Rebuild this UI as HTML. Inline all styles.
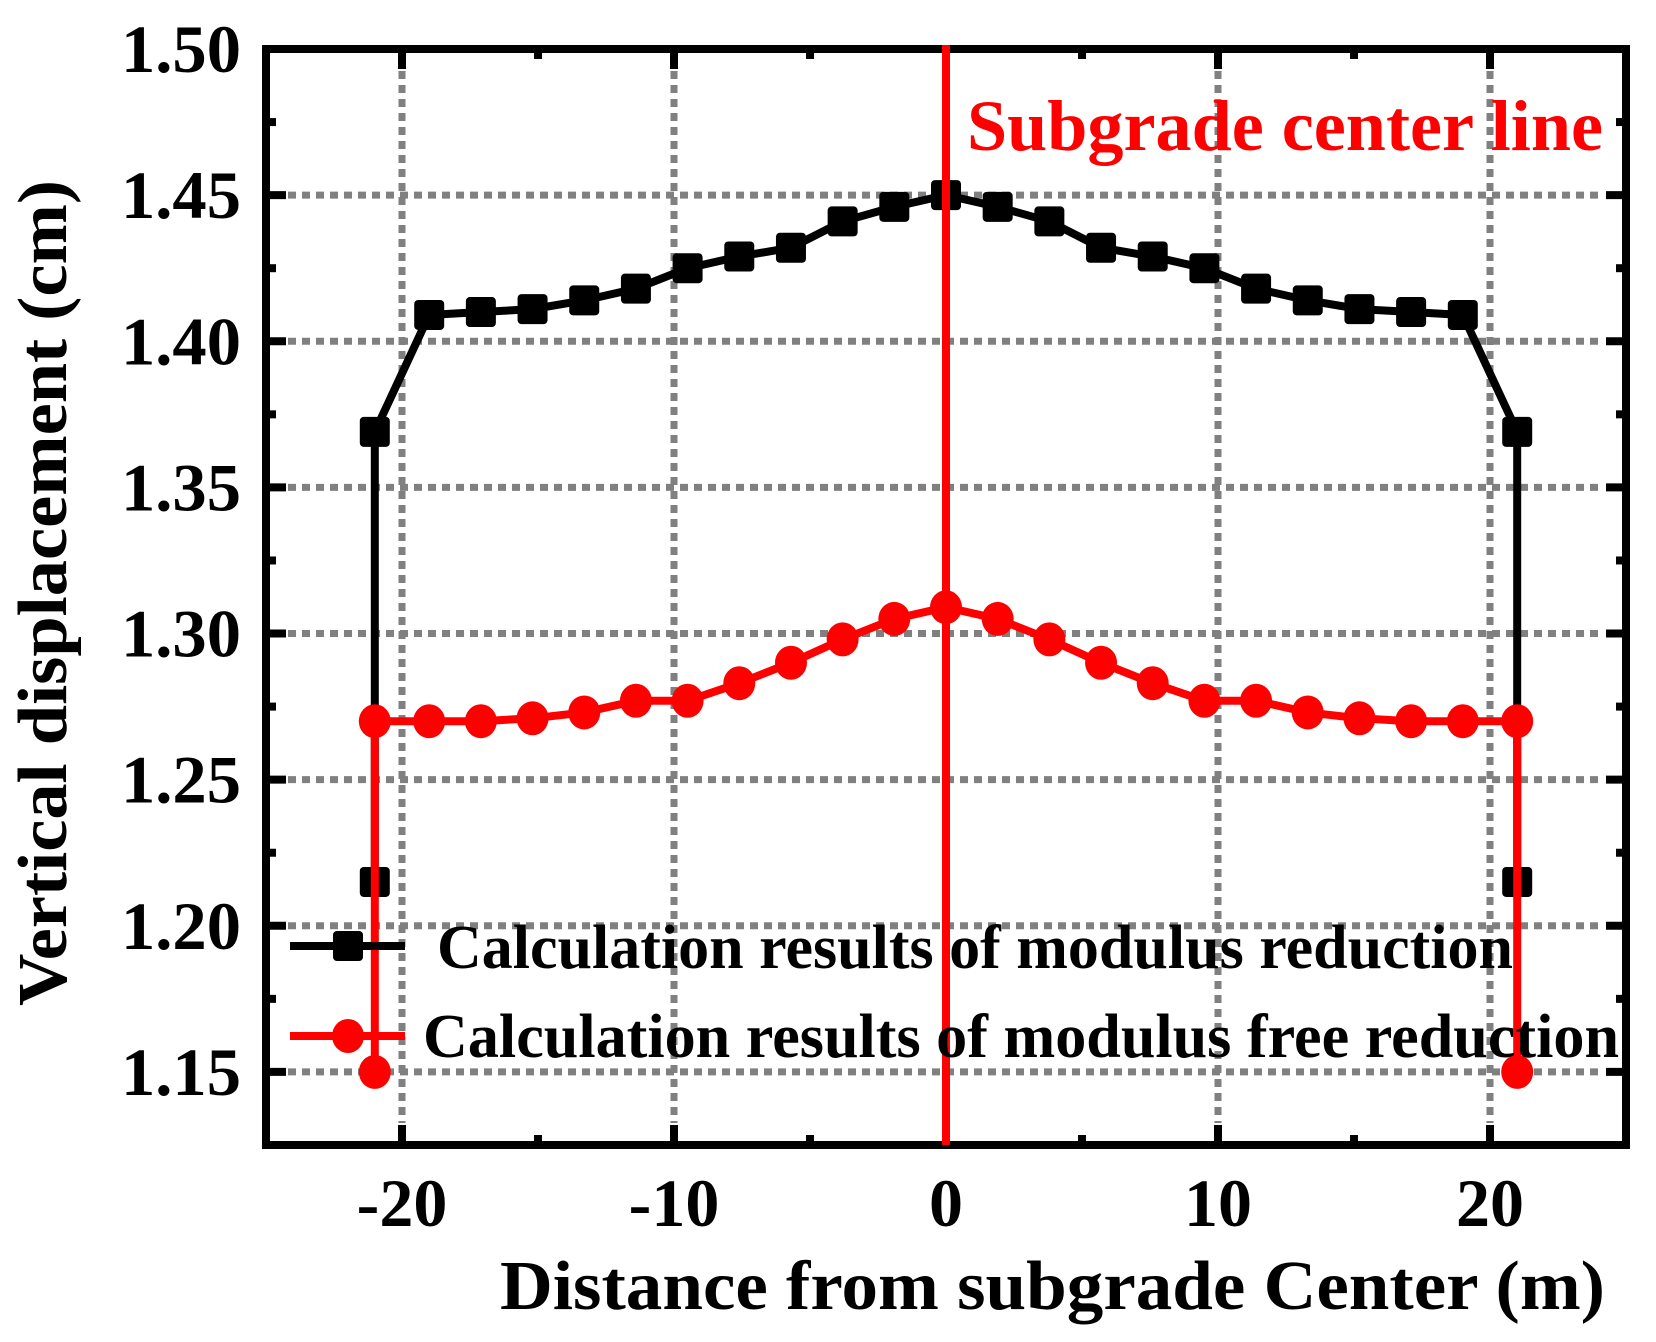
<!DOCTYPE html>
<html><head><meta charset="utf-8"><style>
html,body{margin:0;padding:0;background:#fff;}
svg{display:block;font-family:"Liberation Serif",serif;font-weight:bold;}
</style></head><body>
<svg id="chart" width="1656" height="1342" viewBox="0 0 1656 1342" xmlns="http://www.w3.org/2000/svg">
<g id="grid"></g>
<g id="series"></g>
<g id="axes"></g>
<g id="center"></g>
<text x="967" y="150" font-size="72" fill="#ff0000" textLength="636" lengthAdjust="spacingAndGlyphs">Subgrade center line</text>
<g>
<line x1="290" y1="946" x2="405" y2="946" stroke="#000" stroke-width="8"/>
<rect x="333" y="931" width="30" height="30" rx="4" fill="#000"/>
<text x="437" y="968" font-size="62" fill="#000" textLength="1076" lengthAdjust="spacingAndGlyphs">Calculation results of modulus reduction</text>
<line x1="290" y1="1036" x2="405" y2="1036" stroke="#ff0000" stroke-width="8"/>
<ellipse cx="348" cy="1036" rx="16" ry="17" fill="#ff0000"/>
<text x="423" y="1057" font-size="62" fill="#000" textLength="1196" lengthAdjust="spacingAndGlyphs">Calculation results of modulus free reduction</text>
</g>
<text x="500" y="1309" font-size="70" fill="#000" textLength="1105" lengthAdjust="spacingAndGlyphs">Distance from subgrade Center (m)</text>
<text transform="translate(66,1006) rotate(-90)" x="0" y="0" font-size="70" fill="#000" textLength="826" lengthAdjust="spacingAndGlyphs">Vertical displacement (cm)</text>
</svg>
<script>
const xVals = [-21, -21, -19, -17.1, -15.2, -13.3, -11.4, -9.5, -7.6, -5.7, -3.8, -1.9, 0, 1.9, 3.8, 5.7, 7.6, 9.5, 11.4, 13.3, 15.2, 17.1, 19, 21, 21];
const blackVals = [1.215, 1.369, 1.409, 1.410, 1.411, 1.414, 1.418, 1.425, 1.429, 1.432, 1.441, 1.446, 1.450, 1.446, 1.441, 1.432, 1.429, 1.425, 1.418, 1.414, 1.411, 1.410, 1.409, 1.369, 1.215];
const redVals = [1.150, 1.270, 1.270, 1.270, 1.271, 1.273, 1.277, 1.277, 1.283, 1.290, 1.298, 1.305, 1.309, 1.305, 1.298, 1.290, 1.283, 1.277, 1.277, 1.273, 1.271, 1.270, 1.270, 1.270, 1.150];
const xTicks = [-20, -10, 0, 10, 20];
const xTickLabels = ["-20", "-10", "0", "10", "20"];
const yTicks = [1.15, 1.20, 1.25, 1.30, 1.35, 1.40, 1.45, 1.50];
const yTickLabels = ["1.15", "1.20", "1.25", "1.30", "1.35", "1.40", "1.45", "1.50"];
const centerX = [0];

const L=266, R=1626, T=49, B=1145;
const xMin=-25, xMax=25, yMin=1.125, yMax=1.5;
const sx = v => L + (v - xMin) / (xMax - xMin) * (R - L);
const sy = v => B - (v - yMin) / (yMax - yMin) * (B - T);
const NS="http://www.w3.org/2000/svg";
function mk(tag, attrs, parent){const e=document.createElementNS(NS,tag);for(const k in attrs)e.setAttribute(k,attrs[k]);parent.appendChild(e);return e;}
const grid=document.getElementById('grid'), ser=document.getElementById('series'), axes=document.getElementById('axes'), cen=document.getElementById('center');

xTicks.forEach(v=>{
  const g=mk('line',{x1:sx(v),x2:sx(v),y1:T+22,y2:B-22,stroke:'#808080','stroke-width':7,'stroke-dasharray':'8 6'},grid);
  
  
});
yTicks.forEach(v=>{
  if(v>=yMax) return;
  const g=mk('line',{x1:L+22,x2:R-22,y1:sy(v),y2:sy(v),stroke:'#808080','stroke-width':7,'stroke-dasharray':'8 6'},grid);
  
  
});

function series(vals,color,marker,name){
  const pts=xVals.map((x,i)=>sx(x)+','+sy(vals[i])).join(' ');
  const pl=mk('polyline',{points:pts,fill:'none',stroke:color,'stroke-width':8,'stroke-linejoin':'miter'},ser);
  
  
  xVals.forEach((x,i)=>{
    let m;
    if(marker==='square') m=mk('rect',{x:sx(x)-15,y:sy(vals[i])-15,width:30,height:30,rx:4,fill:color},ser);
    else m=mk('ellipse',{cx:sx(x),cy:sy(vals[i]),rx:16,ry:17,fill:color},ser);
    
    
  });
}
series(blackVals,'#000','square','modulus-reduction');
series(redVals,'#ff0000','circle','modulus-free-reduction');

const frame=mk('rect',{x:L,y:T,width:R-L,height:B-T,fill:'none',stroke:'#000','stroke-width':8},axes);



xTicks.forEach((v,i)=>{
  mk('line',{x1:sx(v),x2:sx(v),y1:B,y2:B-20,stroke:'#000','stroke-width':8},axes);
  mk('line',{x1:sx(v),x2:sx(v),y1:T,y2:T+20,stroke:'#000','stroke-width':8},axes);
  const mv=v+5;
  if(mv<xMax){
    mk('line',{x1:sx(mv),x2:sx(mv),y1:B,y2:B-10,stroke:'#000','stroke-width':8},axes);
    mk('line',{x1:sx(mv),x2:sx(mv),y1:T,y2:T+10,stroke:'#000','stroke-width':8},axes);
  }
  if(i===0){
    mk('line',{x1:sx(v-5),x2:sx(v-5),y1:B,y2:B-10,stroke:'#000','stroke-width':8},axes);
  }
  const t=mk('text',{x:sx(v),y:1226,'font-size':68,'text-anchor':'middle',fill:'#000'},axes);
  t.textContent=xTickLabels[i];
  
  
});
yTicks.forEach((v,i)=>{
  mk('line',{x1:L,x2:L+20,y1:sy(v),y2:sy(v),stroke:'#000','stroke-width':8},axes);
  mk('line',{x1:R,x2:R-20,y1:sy(v),y2:sy(v),stroke:'#000','stroke-width':8},axes);
  const mv=v+0.025;
  if(mv<yMax){
    mk('line',{x1:L,x2:L+10,y1:sy(mv),y2:sy(mv),stroke:'#000','stroke-width':8},axes);
    mk('line',{x1:R,x2:R-10,y1:sy(mv),y2:sy(mv),stroke:'#000','stroke-width':8},axes);
  }
  const t=mk('text',{x:241,y:sy(v)+23,'font-size':68,'text-anchor':'end',fill:'#000',textLength:120,lengthAdjust:'spacingAndGlyphs'},axes);
  t.textContent=yTickLabels[i];
  
  
});

centerX.forEach(v=>{
  const c=mk('line',{x1:sx(v),x2:sx(v),y1:T-4,y2:B,stroke:'#ff0000','stroke-width':8},cen);
  
  
});
</script>
</body></html>
